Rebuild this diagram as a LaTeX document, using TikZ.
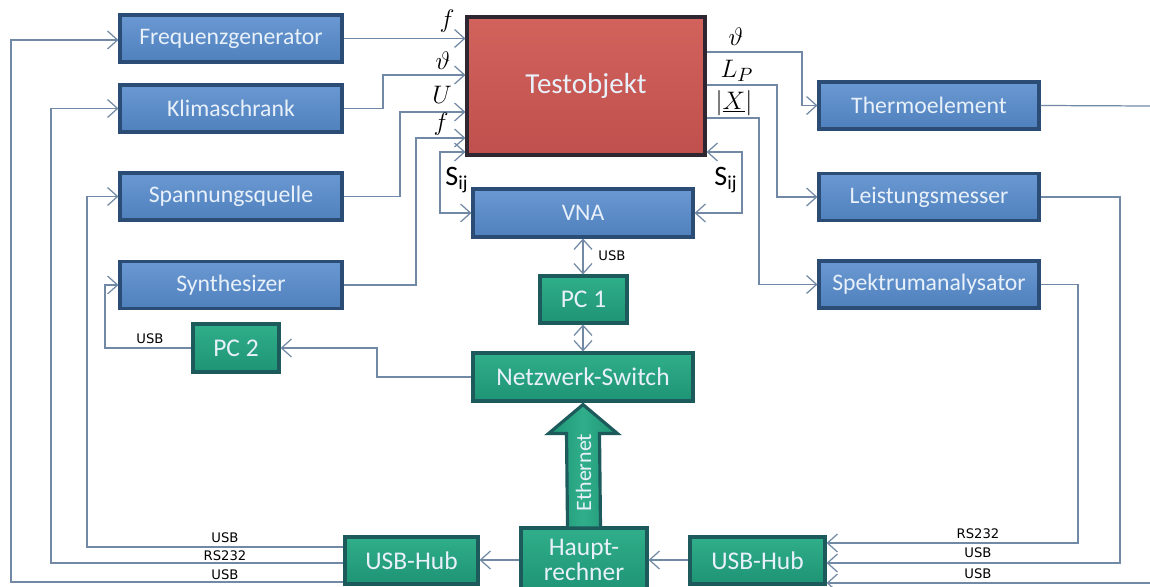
\documentclass[tikz,border=0pt]{standalone}
\usepackage{fontspec}
\setmainfont{Carlito}
\newfontfamily\lblfont{DejaVu Sans}
\usetikzlibrary{arrows.meta,calc}
\definecolor{bluefill}{HTML}{4F81BD}
\definecolor{bluetop}{HTML}{6A98D2}
\definecolor{blueedge}{HTML}{2B4C74}
\definecolor{greenfill}{HTML}{1E9474}
\definecolor{greentop}{HTML}{30AE8A}
\definecolor{greenedge}{HTML}{1D5A5C}
\definecolor{redfill}{HTML}{C0504D}
\definecolor{redtop}{HTML}{D2625C}
\definecolor{rededge}{HTML}{2E2630}
\definecolor{wirec}{HTML}{7289A6}
\definecolor{boxtext}{HTML}{E8F0FA}
\begin{document}
\begin{tikzpicture}[x=0.02cm,y=-0.02cm,
  box/.style={rectangle,line width=1.8pt,inner sep=0pt,text=boxtext,align=center,
    font=\fontsize{13.5}{15}\selectfont},
  bluebox/.style={box,draw=blueedge,top color=bluetop,bottom color=bluefill},
  greenbox/.style={box,draw=greenedge,top color=greentop,bottom color=greenfill,
    font=\fontsize{14.5}{16}\selectfont},
  redbox/.style={box,draw=rededge,top color=redtop,bottom color=redfill,
    font=\fontsize{16.5}{18}\selectfont},
  wire/.style={draw=wirec,line width=0.7pt},
  arr/.style={wire,-{Straight Barb[length=2mm,width=3.6mm]}},
  dbl/.style={wire,{Straight Barb[length=2mm,width=3.6mm]}-{Straight Barb[length=2mm,width=3.6mm]}},
  lbl/.style={font=\lblfont\fontsize{7.5}{8}\selectfont,text=black,inner sep=0pt},
  mlbl/.style={font=\fontsize{15.5}{15.5}\selectfont,text=black,inner sep=0pt},
  slbl/.style={font=\fontsize{16}{16}\selectfont,text=black,inner sep=0pt}
]
\useasboundingbox (0,0) rectangle (1150,587);
\fill[white] (0,0) rectangle (1150,587);

% left blue boxes
\node[bluebox,minimum width=4.44cm,minimum height=0.94cm] (fg) at (231,38.5) {Frequenzgenerator};
\node[bluebox,minimum width=4.44cm,minimum height=0.94cm] (kl) at (231,108.5) {Klimaschrank};
\node[bluebox,minimum width=4.44cm,minimum height=0.94cm] (sq) at (231,196.5) {Spannungsquelle};
\node[bluebox,minimum width=4.44cm,minimum height=0.94cm] (sy) at (231,285) {Synthesizer};
% right blue boxes
\node[bluebox,minimum width=4.4cm,minimum height=0.94cm] (th) at (929,105.5) {Thermoelement};
\node[bluebox,minimum width=4.4cm,minimum height=0.94cm] (lm) at (929,197) {Leistungsmesser};
\node[bluebox,minimum width=4.4cm,minimum height=0.94cm] (sp) at (929,284.5) {Spektrumanalysator};
% center
\node[redbox,minimum width=4.76cm,minimum height=2.76cm] (tst) at (586,86) {Testobjekt};
\node[bluebox,minimum width=4.4cm,minimum height=0.96cm] (vna) at (583,213) {VNA};
\node[greenbox,minimum width=1.74cm,minimum height=0.94cm] (pc1) at (583.5,299.5) {PC 1};
\node[greenbox,minimum width=1.72cm,minimum height=0.96cm] (pc2) at (236,348) {PC 2};
\node[greenbox,minimum width=4.4cm,minimum height=0.96cm] (ns) at (583,377) {Netzwerk-Switch};
\node[greenbox,minimum width=2.66cm,minimum height=0.94cm] (hubl) at (411.5,560.5) {USB-Hub};
\node[greenbox,minimum width=2.52cm,minimum height=1.28cm,font=\fontsize{14.5}{14}\selectfont] (hr) at (584,560) {Haupt-\\rechner};
\node[greenbox,minimum width=2.7cm,minimum height=0.94cm] (hubr) at (757.5,560.5) {USB-Hub};

% Ethernet block arrow
\path (hr.north) coordinate (eb) (ns.south) coordinate (et);
\draw[line width=1.8pt,draw=greenedge,left color=greenfill,right color=greenfill,middle color=greentop]
  ($(eb)+(-16.5,0)$) -- ($(et)+(-16.5,31)$) -- ($(et)+(-34.5,31)$) -- ($(et)+(0,2)$)
  -- ($(et)+(34.5,31)$) -- ($(et)+(16.5,31)$) -- ($(eb)+(16.5,0)$);
\node[rotate=90,text=boxtext,font=\fontsize{12.5}{13}\selectfont] (eth) at ($(eb)!0.5!(et)+(0,8)$) {Ethernet};

% inputs to Testobjekt
\draw[arr] (fg.east) -- (tst.west |- fg.east);
\draw[arr] (kl.east) -| (383,75) -- (tst.west |- 383,75);
\draw[arr] (sq.east) -| (400,112) -- (tst.west |- 400,112);
\draw[arr] (sy.east) -| (416,138) -- (tst.west |- 416,138);
\node[mlbl] (lf1) at (447,21) {$f$};
\node[mlbl] (lt1) at (443,61) {$\vartheta$};
\node[mlbl] (lu) at (442,95) {$U$};
\node[mlbl] (lf2) at (441,124) {$f$};

% S_ij loops
\draw[dbl] (tst.west |- 0,152) -| (440,213) -- (vna.west);
\draw[dbl] (tst.east |- 0,152) -| (742,213) -- (vna.east);
\node[slbl] (s1) at (457,180) {S\textsubscript{ij}};
\node[slbl] (s2) at (726,180) {S\textsubscript{ij}};

% outputs of Testobjekt
\draw[arr] (tst.east |- 0,52) -| (802,105.5) -- (th.west);
\draw[arr] (tst.east |- 0,85) -| (777,197) -- (lm.west);
\draw[arr] (tst.east |- 0,118) -| (759,284.5) -- (sp.west);
\node[mlbl] (lt2) at (736,37) {$\vartheta$};
\node[mlbl] (llp) at (737,71) {$L_P$};
\node[mlbl] (lx) at (734,103) {$|\underline{X}|$};

% right side to USB hub
\coordinate (te) at (1150,106);
\draw[wire] (th.east) -- (te);
\coordinate (be) at (1150,583);
\draw[arr] (be) -- (hubr.east |- be);
\draw[arr] (lm.east) -| (1120,563) -- (hubr.east |- 0,563);
\draw[arr] (sp.east) -| (1078,543) -- (hubr.east |- 0,543);
\node[lbl] (r1) at (978,534) {RS232};
\node[lbl] (r2) at (978,553) {USB};
\node[lbl] (r3) at (978,574) {USB};

% hubs and Hauptrechner
\draw[arr] (hubr.west |- 0,560) -- (hr.east |- 0,560);
\draw[arr] (hr.west |- 0,560) -- (hubl.east |- 0,560);

% left hub outputs
\draw[arr] (hubl.west |- 0,547) -| (87,196.5) -- (sq.west);
\draw[arr] (hubl.west |- 0,563) -| (51,108.5) -- (kl.west);
\draw[arr] (hubl.west |- 0,582) -| (11,40) -- (fg.west |- 0,40);
\node[lbl] (l1) at (225,538) {USB};
\node[lbl] (l2) at (225,556) {RS232};
\node[lbl] (l3) at (225,575) {USB};

% PCs
\draw[arr] (pc2.west) -| (105,285) -- (sy.west);
\node[lbl] (l4) at (150,339) {USB};
\draw[arr] (ns.west) -| (377,348) -- (pc2.east);
\draw[dbl] (vna.south) -- (pc1.north -| vna.south);
\node[lbl] (l5) at (612,256) {USB};
\draw[dbl] (pc1.south -| vna.south) -- (ns.north);
\end{tikzpicture}
\end{document}
